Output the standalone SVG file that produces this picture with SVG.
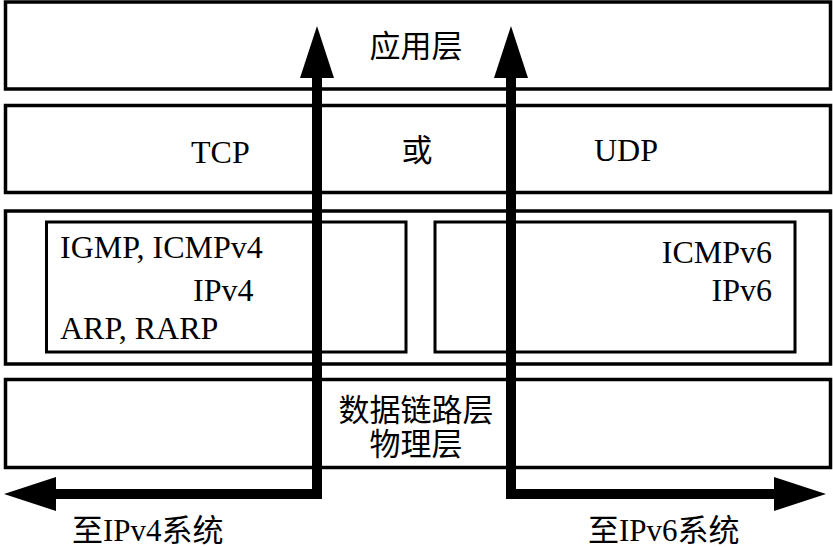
<svg xmlns="http://www.w3.org/2000/svg" width="833" height="547" viewBox="0 0 833 547">
<style>
.box{fill:#fff;stroke:#000;stroke-width:3.5}
.inner{fill:none;stroke:#000;stroke-width:3}
.t{font-family:"Liberation Serif","Noto Sans CJK SC",serif;font-size:31px;fill:#000}
.l{font-size:32px}
.c{text-anchor:middle}
.r{text-anchor:end}
.conn{fill:none;stroke:#000;stroke-width:10;stroke-linejoin:miter}
</style>
<defs>
<marker id="head" markerUnits="userSpaceOnUse" viewBox="0 0 52 34" markerWidth="52" markerHeight="34" refX="1" refY="17" orient="auto-start-reverse">
<path d="M0,0 L52,17 L0,34 z" fill="#000"/>
</marker>
</defs>
<g id="app"><rect class="box" x="5.5" y="2" width="825" height="87"/><text class="t c" x="416" y="57">应用层</text></g>
<g id="transport"><rect class="box" x="5.5" y="105.5" width="825" height="87"/><text class="t l" x="191" y="163">TCP</text><text class="t c" x="417" y="161">或</text><text class="t l" x="594" y="161">UDP</text></g>
<g id="network"><rect class="box" x="5.5" y="211" width="825" height="153"/></g>
<g id="ipv4"><rect class="inner" x="46.5" y="222" width="359.5" height="130"/><text class="t l" x="60" y="258">IGMP, ICMPv4</text><text class="t l" x="193" y="301">IPv4</text><text class="t l" x="60" y="339">ARP, RARP</text></g>
<g id="ipv6"><rect class="inner" x="435" y="222" width="360" height="130"/><text class="t l r" x="772" y="263">ICMPv6</text><text class="t l r" x="772" y="301">IPv6</text></g>
<g id="link"><rect class="box" x="5.5" y="379.5" width="825" height="88"/><text class="t c" x="416" y="421">数据链路层</text><text class="t c" x="416" y="455">物理层</text></g>
<g id="connectors">
<path class="conn" d="M55,494 L317,494 L317,77" marker-start="url(#head)" marker-end="url(#head)"/>
<path class="conn" d="M775,494 L511,494 L511,77" marker-start="url(#head)" marker-end="url(#head)"/>
</g>
<g id="labels"><text class="t" x="72" y="541">至IPv4系统</text><text class="t" x="588" y="541">至IPv6系统</text></g>
</svg>
